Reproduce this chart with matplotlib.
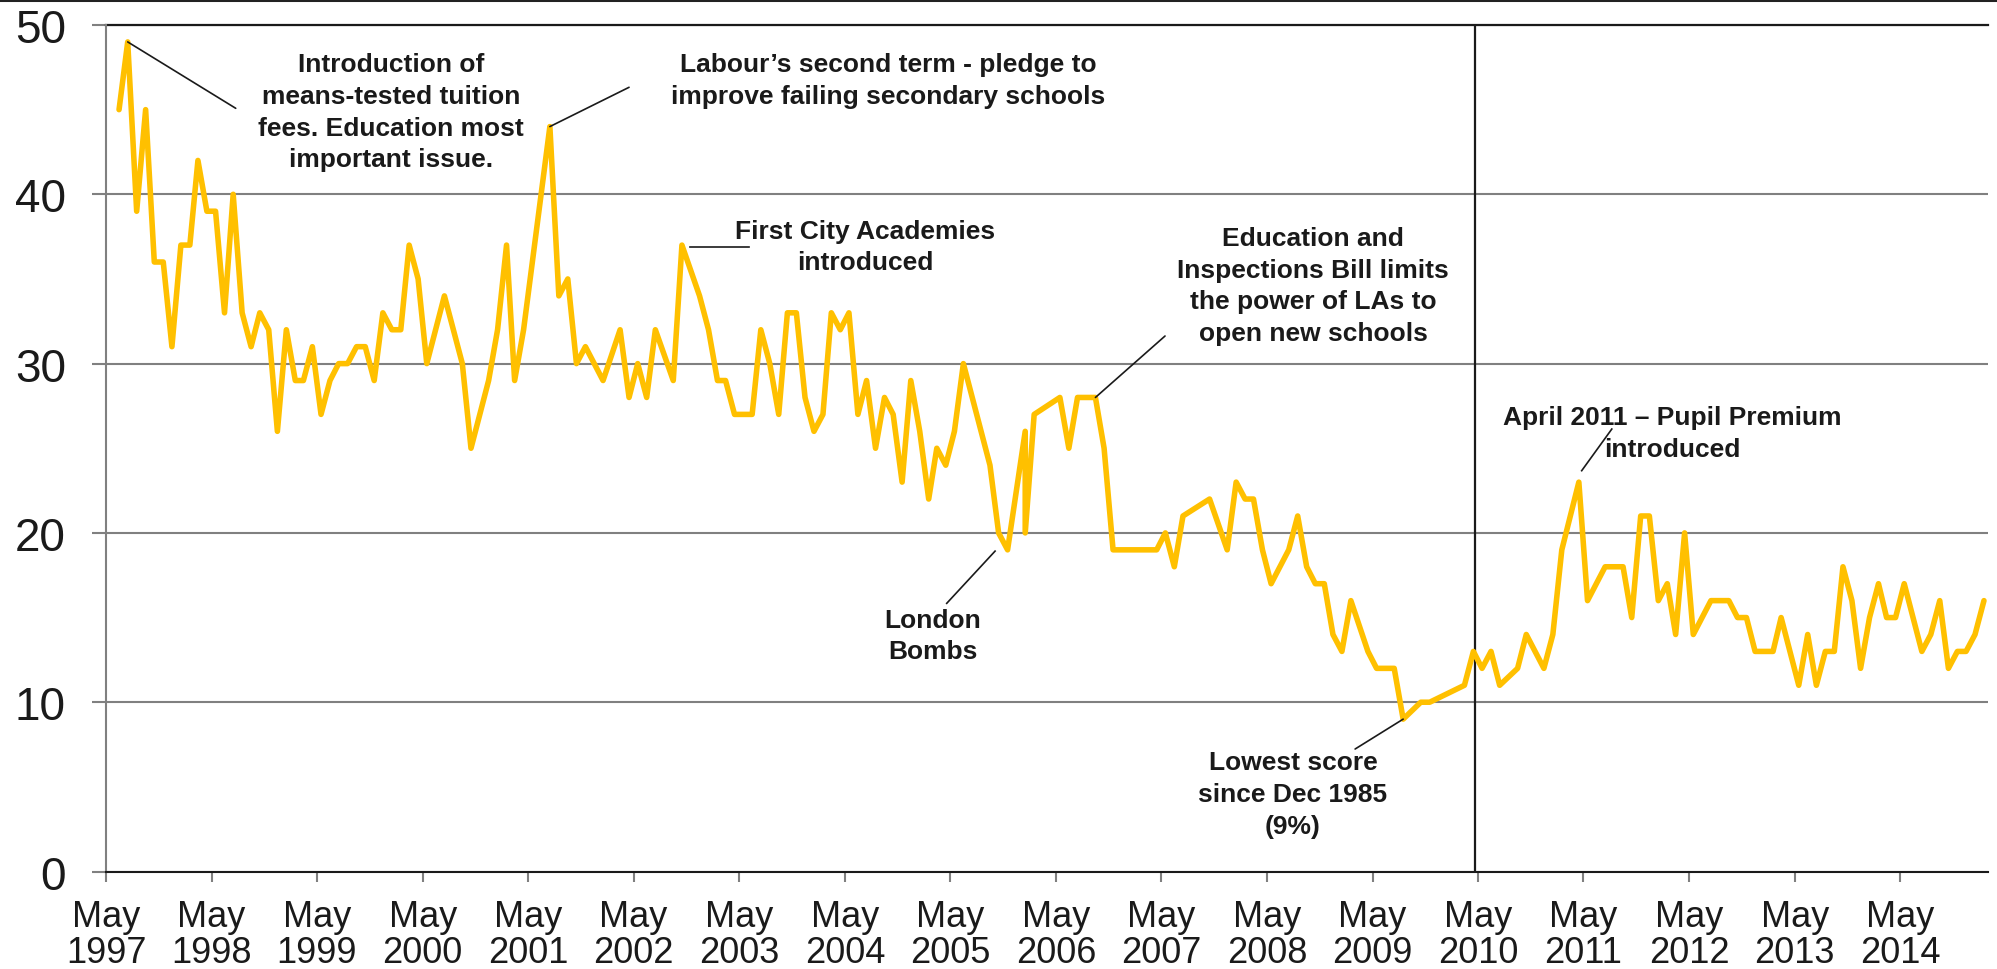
import pandas as pd
import matplotlib
matplotlib.use("Agg")
import matplotlib.pyplot as plt
from matplotlib import font_manager
from matplotlib.lines import Line2D

# Share naming education as an important issue (%), monthly readings
survey_months = [
    "1997-06", "1997-07", "1997-08", "1997-09", "1997-10", "1997-11", "1997-12",
    "1998-01", "1998-02", "1998-03", "1998-04", "1998-05", "1998-06",
    "1998-07", "1998-08", "1998-09", "1998-10", "1998-11", "1998-12",
    "1999-01", "1999-02", "1999-03", "1999-04", "1999-05", "1999-06",
    "1999-07", "1999-08", "1999-09", "1999-10", "1999-11", "1999-12",
    "2000-01", "2000-02", "2000-03", "2000-04", "2000-05", "2000-07",
    "2000-09", "2000-10", "2000-12",
    "2001-01", "2001-02", "2001-03", "2001-04", "2001-07", "2001-08",
    "2001-09", "2001-10", "2001-11",
    "2002-01", "2002-03", "2002-04", "2002-05", "2002-06", "2002-07",
    "2002-09", "2002-10", "2002-12",
    "2003-01", "2003-02", "2003-03", "2003-04", "2003-06", "2003-07",
    "2003-08", "2003-09", "2003-10", "2003-11", "2003-12",
    "2004-01", "2004-02", "2004-03", "2004-04", "2004-05", "2004-06",
    "2004-07", "2004-08", "2004-09", "2004-10", "2004-11", "2004-12",
    "2005-01", "2005-02", "2005-03", "2005-04", "2005-05", "2005-06",
    "2005-09", "2005-10", "2005-11",
    "2006-01", "2006-01", "2006-02", "2006-05", "2006-06", "2006-07",
    "2006-09", "2006-10", "2006-11",
    "2007-04", "2007-05", "2007-06", "2007-07", "2007-10", "2007-12",
    "2008-01", "2008-02", "2008-03", "2008-04", "2008-05", "2008-07",
    "2008-08", "2008-09", "2008-10", "2008-11", "2008-12",
    "2009-01", "2009-02", "2009-04", "2009-05", "2009-07", "2009-08",
    "2009-10", "2009-11",
    "2010-03", "2010-04", "2010-05", "2010-06", "2010-07", "2010-09",
    "2010-10", "2010-12",
    "2011-01", "2011-02", "2011-04", "2011-05", "2011-07", "2011-09",
    "2011-10", "2011-11", "2011-12",
    "2012-01", "2012-02", "2012-03", "2012-04", "2012-05", "2012-07",
    "2012-09", "2012-10", "2012-11", "2012-12",
    "2013-02", "2013-03", "2013-05", "2013-06", "2013-07", "2013-08",
    "2013-09", "2013-10", "2013-11", "2013-12",
    "2014-01", "2014-02", "2014-03", "2014-04", "2014-05", "2014-07",
    "2014-08", "2014-09", "2014-10", "2014-11", "2014-12",
    "2015-01", "2015-02",
]
education_share = [
    45, 49, 39, 45, 36, 36, 31,
    37, 37, 42, 39, 39, 33,
    40, 33, 31, 33, 32, 26,
    32, 29, 29, 31, 27, 29,
    30, 30, 31, 31, 29, 33,
    32, 32, 37, 35, 30, 34,
    30, 25, 29,
    32, 37, 29, 32, 44, 34,
    35, 30, 31,
    29, 32, 28, 30, 28, 32,
    29, 37, 34,
    32, 29, 29, 27, 27, 32,
    30, 27, 33, 33, 28,
    26, 27, 33, 32, 33, 27,
    29, 25, 28, 27, 23, 29,
    26, 22, 25, 24, 26, 30,
    24, 20, 19,
    26, 20, 27, 28, 25, 28,
    28, 25, 19,
    19, 20, 18, 21, 22, 19,
    23, 22, 22, 19, 17, 19,
    21, 18, 17, 17, 14,
    13, 16, 13, 12, 12, 9,
    10, 10,
    11, 13, 12, 13, 11, 12,
    14, 12,
    14, 19, 23, 16, 18, 18,
    15, 21, 21,
    16, 17, 14, 20, 14, 16,
    16, 15, 15, 13,
    13, 15, 11, 14, 11, 13,
    13, 18, 16, 12,
    15, 17, 15, 15, 17, 13,
    14, 16, 12, 13, 13,
    14, 16,
]

tick_years = list(range(1997, 2015))
y_ticks = [0, 10, 20, 30, 40, 50]

# callout texts: (text, centre in axes fraction)
callouts = [
    ("Introduction of\nmeans-tested tuition\nfees. Education most\nimportant issue.", 0.1514, 0.8974),
    ("Labour\u2019s second term - pledge to\nimprove failing secondary schools", 0.4155, 0.9353),
    ("First City Academies\nintroduced", 0.4033, 0.7383),
    ("Education and\nInspections Bill limits\nthe power of LAs to\nopen new schools", 0.6413, 0.6923),
    ("London\nBombs", 0.4394, 0.2788),
    ("Lowest score\nsince Dec 1985\n(9%)", 0.6307, 0.0916),
    ("April 2011 \u2013 Pupil Premium\nintroduced", 0.8321, 0.5180),
]

# leader lines anchored on a data point: (month, axes-fraction end)
data_leaders = [
    ("1997-07", 0.0689, 0.9016),
    ("2001-07", 0.2779, 0.9264),
    ("2006-09", 0.5627, 0.6326),
    ("2009-08", 0.6637, 0.1447),
]
# free leader lines in axes fraction
free_leaders = [
    ((0.3103, 0.7377), (0.3417, 0.7377)),
    ((0.4724, 0.3785), (0.4467, 0.3168)),
    ((0.7841, 0.4735), (0.8001, 0.5227)),
]


def main():
    names = {f.name for f in font_manager.fontManager.ttflist}
    if "Liberation Sans Narrow" in names:
        xfont, xsize = "Liberation Sans Narrow", 30
    else:
        xfont, xsize = "Liberation Sans", 26
    plt.rcParams["font.family"] = ["Liberation Sans", "DejaVu Sans"]

    dates = pd.to_datetime(survey_months) + pd.Timedelta(days=14)
    lookup = dict(zip(survey_months, education_share))

    fig = plt.figure(figsize=(19.97, 9.70), dpi=100)
    ax = fig.add_axes([0.0531, 0.1005, 0.9424, 0.8727])

    ax.plot(dates, education_share, color="#FFC000", lw=4.0,
            solid_joinstyle="round", solid_capstyle="round", zorder=3)

    ax.set_ylim(0, 50)
    ax.set_xlim(pd.Timestamp("1997-05-01"), pd.Timestamp("2015-03-01"))

    ax.set_yticks(y_ticks)
    ax.set_yticklabels([str(v) for v in y_ticks], fontsize=33, color="#1a1a1a")
    ax.yaxis.grid(True, color="#808080", lw=1.5)
    ax.set_axisbelow(True)
    ax.tick_params(axis="y", direction="out", length=10, width=1.5,
                   color="#808080", pad=19)

    xt = [pd.Timestamp(f"{y}-05-01") for y in tick_years]
    ax.set_xticks(xt)
    ax.set_xticklabels([f"May\n{y}" for y in tick_years], fontsize=xsize,
                       family=xfont, color="#1a1a1a", linespacing=1.05)
    ax.tick_params(axis="x", direction="out", length=7.5, width=1.5,
                   color="#808080", pad=12)

    for s in ["top", "right"]:
        ax.spines[s].set_visible(False)
    ax.spines["left"].set_color("#808080")
    ax.spines["left"].set_linewidth(1.5)
    ax.spines["bottom"].set_color("#1a1a1a")
    ax.spines["bottom"].set_linewidth(1.5)

    ax.axhline(50, color="#1a1a1a", lw=1.6, zorder=2, clip_on=False)
    ax.axvline(pd.Timestamp("2010-04-22"), color="#1a1a1a", lw=1.6, zorder=2)

    for text, x, y in callouts:
        ax.text(x, y, text, transform=ax.transAxes, ha="center", va="center",
                fontsize=19, fontweight="bold", color="#1a1a1a",
                linespacing=1.4, zorder=4)

    for month, x, y in data_leaders:
        ax.annotate("", xy=(pd.Timestamp(month + "-15"), lookup[month]),
                    xycoords="data", xytext=(x, y), textcoords="axes fraction",
                    arrowprops=dict(arrowstyle="-", color="#1a1a1a", lw=1.2,
                                    shrinkA=0, shrinkB=0), zorder=4)

    for (x0, y0), (x1, y1) in free_leaders:
        ax.plot([x0, x1], [y0, y1], transform=ax.transAxes, color="#1a1a1a",
                lw=1.2, zorder=4)

    fig.add_artist(Line2D([0, 1], [0.9985, 0.9985], color="#222222", lw=2.2,
                          transform=fig.transFigure))

    fig.savefig("out.png", dpi=100)
    plt.close(fig)


if __name__ == "__main__":
    main()
